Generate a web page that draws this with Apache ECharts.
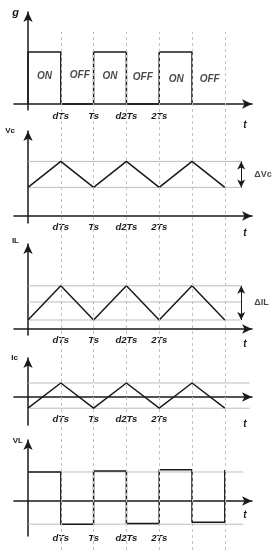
<!DOCTYPE html>
<html><head><meta charset="utf-8">
<script src="https://cdn.jsdelivr.net/npm/echarts@6/dist/echarts.min.js"></script>
<style>html,body{margin:0;padding:0;background:#fff}#c{width:278px;height:550px}</style>
</head><body><div id="c"></div>
<script>
// ---- data ----
const tickValues = [0.5, 1, 1.5, 2];
const tickLabels = ['dTs', 'Ts', 'd2Ts', '2Ts'];
const gridTimes = [0.5, 1, 1.5, 2, 2.5, 3];

const gTime  = [0, 0, 0.5, 0.5, 1, 1, 1.5, 1.5, 2, 2, 2.5, 2.5];
const gValue = [0, 1, 1,   0,   0, 1, 1,   0,   0, 1, 1,   0];
const stateNames = ['ON', 'OFF', 'ON', 'OFF', 'ON', 'OFF'];
const stateTime  = [0.25, 0.79, 1.25, 1.75, 2.26, 2.77];
const stateLevel = [0.54, 0.55, 0.54, 0.52, 0.48, 0.48];

const rampTime = [0, 0.5, 1, 1.5, 2, 2.5, 3];
const vcValue  = [1.1, 2.1, 1.1, 2.1, 1.1, 2.1, 1.1];
const vcLevels = [1.1, 2.1];
const ilValue  = [0.5, 2.4, 0.5, 2.4, 0.5, 2.4, 0.5];
const ilLevels = [0.5, 1.5, 2.4];
const icValue  = [-0.8, 1, -0.8, 1, -0.8, 1, -0.8];
const icLevels = [-0.8, 1];
const vlTime  = [0, 0.5, 0.5, 1, 1, 1.5, 1.5, 2, 2, 2.5, 2.5, 3, 3];
const vlValue = [1, 1, -0.8, -0.8, 1.03, 1.03, -0.78, -0.78, 1.08, 1.08, -0.73, -0.73, 1.07];
const vlLevels = [1, -0.8];

const deltaTime = 3.25;
// ---- layout ----
const T0 = -0.2134, T1 = 3.4146;
const FONT = '"Liberation Sans", Arial, sans-serif';
const INK = '#1a1a1a';

const panels = [
  {top: 12,  bottom: 110, ymin: -0.115, ymax: 1.769, name: 'g',  nStyle: {fontStyle: 'italic', fontSize: 11, pr: 9, gap: -1}, margin: 6,  tPad: 16},
  {top: 131, bottom: 223, ymin: -0.269, ymax: 3.269, name: 'Vc', nStyle: {fontStyle: 'normal', fontSize: 8, pr: 13, gap: 0}, margin: 4,  tPad: 12},
  {top: 244, bottom: 335, ymin: -0.333, ymax: 4.722, name: 'IL', nStyle: {fontStyle: 'normal', fontSize: 8, pr: 9, gap: 3},  margin: 5,  tPad: 10},
  {top: 358, bottom: 425, ymin: -2,     ymax: 2.786, name: 'Ic', nStyle: {fontStyle: 'normal', fontSize: 8, pr: 10, gap: 0}, margin: -6, tPad: 22},
  {top: 440, bottom: 536, ymin: -1.207, ymax: 2.103, name: 'VL', nStyle: {fontStyle: 'normal', fontSize: 8, pr: 5, gap: -1}, margin: 2,  tPad: 9}
];

const grids = [], xAxes = [], yAxes = [], series = [];
panels.forEach((p, i) => {
  grids.push({left: 14, width: 238, top: p.top, height: p.bottom - p.top, outerBoundsMode: 'none', containLabel: false});
  xAxes.push({
    gridIndex: i, type: 'value', min: T0, max: T1,
    axisLine: {onZero: true, symbol: ['none', 'arrow'], symbolSize: [7, 10], lineStyle: {color: INK, width: 1.5}},
    axisTick: {show: false}, splitLine: {show: false},
    axisLabel: {
      customValues: tickValues, margin: p.margin, color: INK, verticalAlign: 'middle',
      fontFamily: FONT, fontSize: 9.5, fontWeight: 'bold', fontStyle: 'italic',
      formatter: v => tickLabels[tickValues.indexOf(v)] || ''
    },
    name: 't', nameLocation: 'end', nameGap: -7,
    nameTextStyle: {fontFamily: FONT, fontSize: 10, fontWeight: 'bold', fontStyle: 'italic', color: INK,
      align: 'center', verticalAlign: 'top', padding: [p.tPad, 0, 0, 0]}
  });
  yAxes.push({
    gridIndex: i, type: 'value', min: p.ymin, max: p.ymax,
    axisLine: {onZero: true, symbol: ['none', 'arrow'], symbolSize: [7, 10], lineStyle: {color: INK, width: 1.5}},
    axisTick: {show: false}, splitLine: {show: false}, axisLabel: {show: false},
    name: p.name, nameLocation: 'end', nameGap: p.nStyle.gap,
    nameTextStyle: {fontFamily: FONT, fontSize: p.nStyle.fontSize, fontWeight: 'bold', fontStyle: p.nStyle.fontStyle,
      color: INK, align: 'right', verticalAlign: 'middle', padding: [0, p.nStyle.pr, 0, 0]}
  });
});
// overlay grid for dashed guides
grids.push({left: 14, width: 238, top: 32, bottom: 0, outerBoundsMode: 'none'});
xAxes.push({gridIndex: 5, type: 'value', min: T0, max: T1, show: false});
yAxes.push({gridIndex: 5, type: 'value', min: 0, max: 1, show: false});

series.push({
  type: 'line', xAxisIndex: 5, yAxisIndex: 5, data: [], z: 0, silent: true,
  markLine: {silent: true, symbol: 'none', label: {show: false}, animation: false,
    lineStyle: {type: [3, 3], color: '#c2c2c2', width: 1},
    data: gridTimes.map(t => ({xAxis: t}))}
});

const zip = (a, b) => a.map((v, k) => [v, b[k]]);
function wave(i, data) {
  series.push({type: 'line', xAxisIndex: i, yAxisIndex: i, data, symbol: 'none', z: 4,
    lineStyle: {color: INK, width: 1.5}, silent: true});
}
function levels(i, lv, end) {
  lv.forEach(v => series.push({type: 'line', xAxisIndex: i, yAxisIndex: i, data: [[0, v], [end, v]],
    symbol: 'none', z: 2, lineStyle: {color: '#bdbdbd', width: 1}, silent: true}));
}
function delta(i, lo, hi, text) {
  series.push({type: 'scatter', xAxisIndex: i, yAxisIndex: i, data: [[deltaTime, (lo + hi) / 2]],
    symbolSize: 0, z: 4, silent: true,
    label: {show: true, position: 'right', distance: 13, formatter: text, fontFamily: FONT,
      fontSize: 9, fontWeight: 'bold', color: INK},
    markLine: {silent: true, symbol: ['arrow', 'arrow'], symbolSize: [6, 8], label: {show: false}, animation: false,
      lineStyle: {type: 'solid', color: INK, width: 1},
      data: [[{coord: [deltaTime, lo]}, {coord: [deltaTime, hi]}]]}
  });
}

// g
wave(0, zip(gTime, gValue));
series.push({type: 'scatter', xAxisIndex: 0, yAxisIndex: 0, symbolSize: 0, silent: true,
  data: stateNames.map((n, k) => ({value: [stateTime[k], stateLevel[k]], name: n})),
  label: {show: true, position: 'inside', formatter: '{b}', fontFamily: FONT, fontSize: 10,
    fontWeight: 'bold', fontStyle: 'italic', color: INK}});
// Vc
levels(1, vcLevels, deltaTime);
wave(1, zip(rampTime, vcValue));
delta(1, vcLevels[0], vcLevels[1], 'ΔVc');
// IL
levels(2, ilLevels, deltaTime);
wave(2, zip(rampTime, ilValue));
delta(2, ilLevels[0], ilLevels[2], 'ΔIL');
// Ic
levels(3, icLevels, 3.38);
wave(3, zip(rampTime, icValue));
// VL
levels(4, vlLevels, 3.28);
wave(4, zip(vlTime, vlValue));

const chart = echarts.init(document.getElementById('c'), null, {renderer: 'canvas'});
chart.setOption({animation: false, backgroundColor: '#fff', grid: grids, xAxis: xAxes, yAxis: yAxes, series});
</script></body></html>
